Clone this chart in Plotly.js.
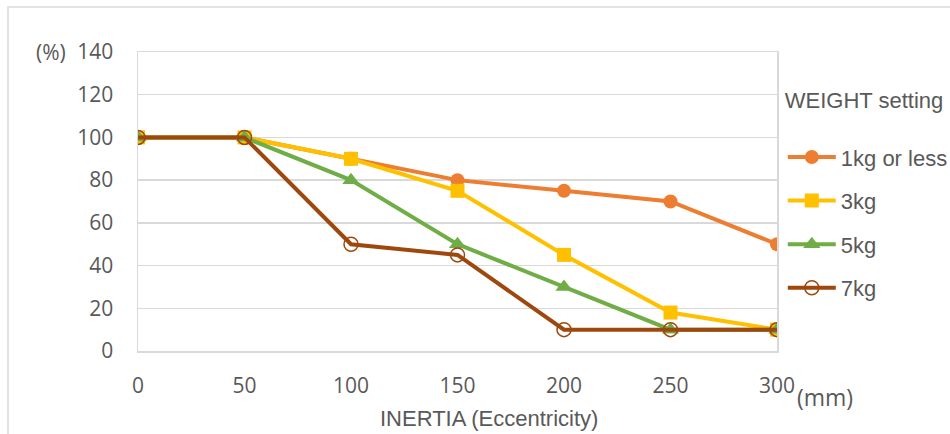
<!DOCTYPE html>
<html>
<head>
<meta charset="utf-8">
<script src="https://cdn.plot.ly/plotly-3.0.1.min.js"></script>
<style>
  html, body { margin: 0; padding: 0; background: #fff; }
  #wrap { position: relative; width: 950px; height: 434px; overflow: hidden; }
  #chart { position: absolute; left: 0; top: 0; width: 950px; height: 434px; }
  #frame { position: absolute; left: 7px; top: 6px; width: 1000px; height: 500px;
           border: 2px solid #e3e3e3; pointer-events: none; }
</style>
</head>
<body>
<div id="wrap">
  <div id="frame"></div>
  <div id="chart"></div>
</div>
<script>
const inertia = [0, 50, 100, 150, 200, 250, 300];
const seriesNames = ["1kg or less", "3kg", "5kg", "7kg"];
const w1kg = [100, 100, 90, 80, 75, 70, 50];
const w3kg = [100, 100, 90, 75, 45, 18, 10];
const w5kg = [100, 100, 80, 50, 30, 10, 10];
const w7kg = [100, 100, 50, 45, 10, 10, 10];
const yTicks = [0, 20, 40, 60, 80, 100, 120, 140];
const xTicks = [0, 50, 100, 150, 200, 250, 300];

const colors = ["#ED7D31", "#FFC000", "#70AD47", "#9E480E"];
const symbols = ["circle", "square", "triangle-up", "circle-open"];
const values = [w1kg, w3kg, w5kg, w7kg];

const traces = values.map((v, i) => ({
  type: "scatter",
  mode: "lines+markers",
  x: inertia,
  y: v,
  name: seriesNames[i],
  legendgroup: "g" + i,
  line: { color: colors[i], width: 4 },
  marker: i === 3
    ? { symbol: "circle-open", size: 14, color: colors[i], line: { color: colors[i], width: 1.5 } }
    : { symbol: symbols[i], size: i === 2 ? 15 : 14, color: colors[i] }
}));

const tickFont = { family: "Open Sans, Noto Sans, sans-serif", size: 21, color: "#595959" };
const textFont = { family: "Liberation Sans, Arial, sans-serif", size: 22, color: "#595959" };

const layout = {
  width: 950,
  height: 434,
  margin: { l: 138, r: 173, t: 52, b: 83 },
  paper_bgcolor: "rgba(0,0,0,0)",
  plot_bgcolor: "#fff",
  showlegend: true,
  legend: {
    xref: "container", yref: "container",
    x: 0.824, xanchor: "left",
    y: 0.818, yanchor: "top",
    maxheight: 400,
    font: textFont,
    title: { text: "WEIGHT setting<br> ", font: textFont },
    tracegroupgap: 12,
    itemwidth: 48,
    bgcolor: "rgba(0,0,0,0)"
  },
  xaxis: {
    range: [0, 300],
    tickvals: xTicks,
    ticktext: xTicks.map(String),
    tickfont: tickFont,
    showgrid: false,
    zeroline: false,
    showline: true,
    linecolor: "#d9d9d9",
    linewidth: 1.5,
    mirror: true,
    ticks: "outside",
    ticklen: 15,
    tickcolor: "rgba(0,0,0,0)"
  },
  yaxis: {
    range: [0, 140],
    tickvals: yTicks,
    ticktext: yTicks.map(String),
    tickfont: tickFont,
    showgrid: true,
    gridcolor: "#d9d9d9",
    gridwidth: 1.5,
    zeroline: false,
    showline: true,
    linecolor: "#d9d9d9",
    linewidth: 1.5,
    mirror: true,
    ticks: "outside",
    ticklen: 19,
    tickcolor: "rgba(0,0,0,0)"
  },
  annotations: [
    { text: "INERTIA (Eccentricity)", xref: "paper", yref: "paper", x: 0.549, y: -0.227,
      xanchor: "center", yanchor: "middle", showarrow: false, font: textFont },
    { text: "(%)", xref: "paper", yref: "paper", x: -0.11, y: 1.0, xanchor: "right", yanchor: "middle",
      showarrow: false, font: tickFont },
    { text: "(mm)", xref: "paper", yref: "paper", x: 1.028, y: -0.153, xanchor: "left", yanchor: "middle",
      showarrow: false, font: { family: tickFont.family, size: 23, color: "#595959" } }
  ]
};

Plotly.newPlot("chart", traces, layout, { displayModeBar: false, staticPlot: true });
</script>
</body>
</html>
